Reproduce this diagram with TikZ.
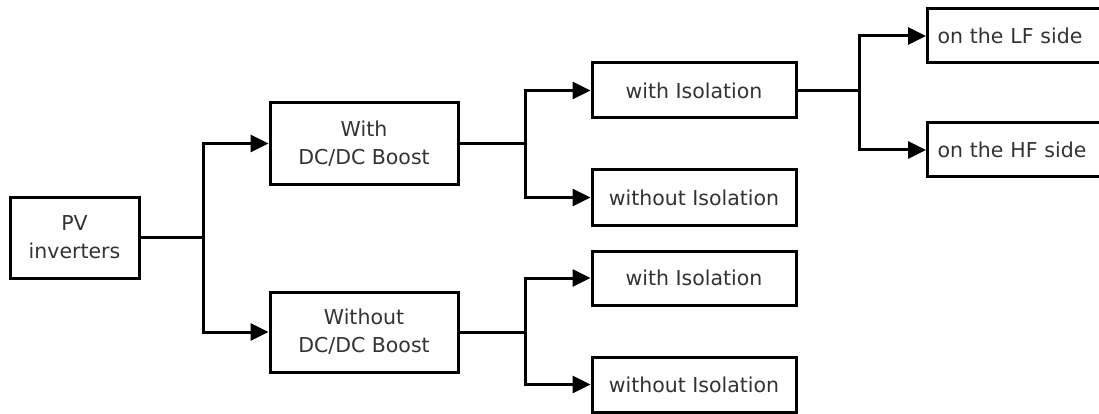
\documentclass[tikz,border=0pt]{standalone}
\usepackage{fontspec}
\setmainfont{DejaVu Sans}
\usetikzlibrary{arrows.meta}
\begin{document}
\begin{tikzpicture}[x=1pt,y=-1pt,
  box/.style={draw=black, line width=3pt, fill=white, inner sep=0pt, align=center,
    font=\fontsize{20.5}{28}\selectfont, text=black!80},
  conn/.style={draw=black, line width=3pt},
  arr/.style={conn, -{Triangle[length=18pt,width=17pt]}}]
\useasboundingbox (0,0) rectangle (1099,414);
\clip (0,0) rectangle (1099,414);
\fill[white] (0,0) rectangle (1099,414);
% nodes
\node[box, minimum width=129, minimum height=81] (pv) at (74.5,237.5) {PV\\inverters};
\node[box, minimum width=188, minimum height=81] (with) at (364,143.5) {With\\DC/DC Boost};
\node[box, minimum width=188, minimum height=80] (without) at (364,332) {Without\\DC/DC Boost};
\node[box, minimum width=204, minimum height=55] (isoA) at (694,90.5) {with Isolation};
\node[box, minimum width=204, minimum height=55] (isoB) at (694,197.5) {without Isolation};
\node[box, minimum width=204, minimum height=54] (isoC) at (694,278) {with Isolation};
\node[box, minimum width=204, minimum height=55] (isoD) at (694,384.5) {without Isolation};
\node[box, anchor=west, minimum width=200, minimum height=54, text width=190, align=left, inner xsep=10pt] (lf) at (926,36) {on the LF side};
\node[box, anchor=west, minimum width=200, minimum height=54, text width=190, align=left, inner xsep=10pt] (hf) at (926,150) {on the HF side};
% junctions
\coordinate (j1) at (203,237.5);
\coordinate (j2) at (525,143.5);
\coordinate (j3) at (525,332);
\coordinate (j4) at (859,90.5);
% connectors
\draw[conn] (pv.east) -- (j1);
\draw[arr] (j1) |- (with.west);
\draw[arr] (j1) |- (without.west);
\draw[conn] (with.east) -- (j2);
\draw[arr] (j2) |- (isoA.west);
\draw[arr] (j2) |- (isoB.west);
\draw[conn] (without.east) -- (j3);
\draw[arr] (j3) |- (isoC.west);
\draw[arr] (j3) |- (isoD.west);
\draw[conn] (isoA.east) -- (j4);
\draw[arr] (j4) |- (lf.west);
\draw[arr] (j4) |- (hf.west);
\end{tikzpicture}
\end{document}
